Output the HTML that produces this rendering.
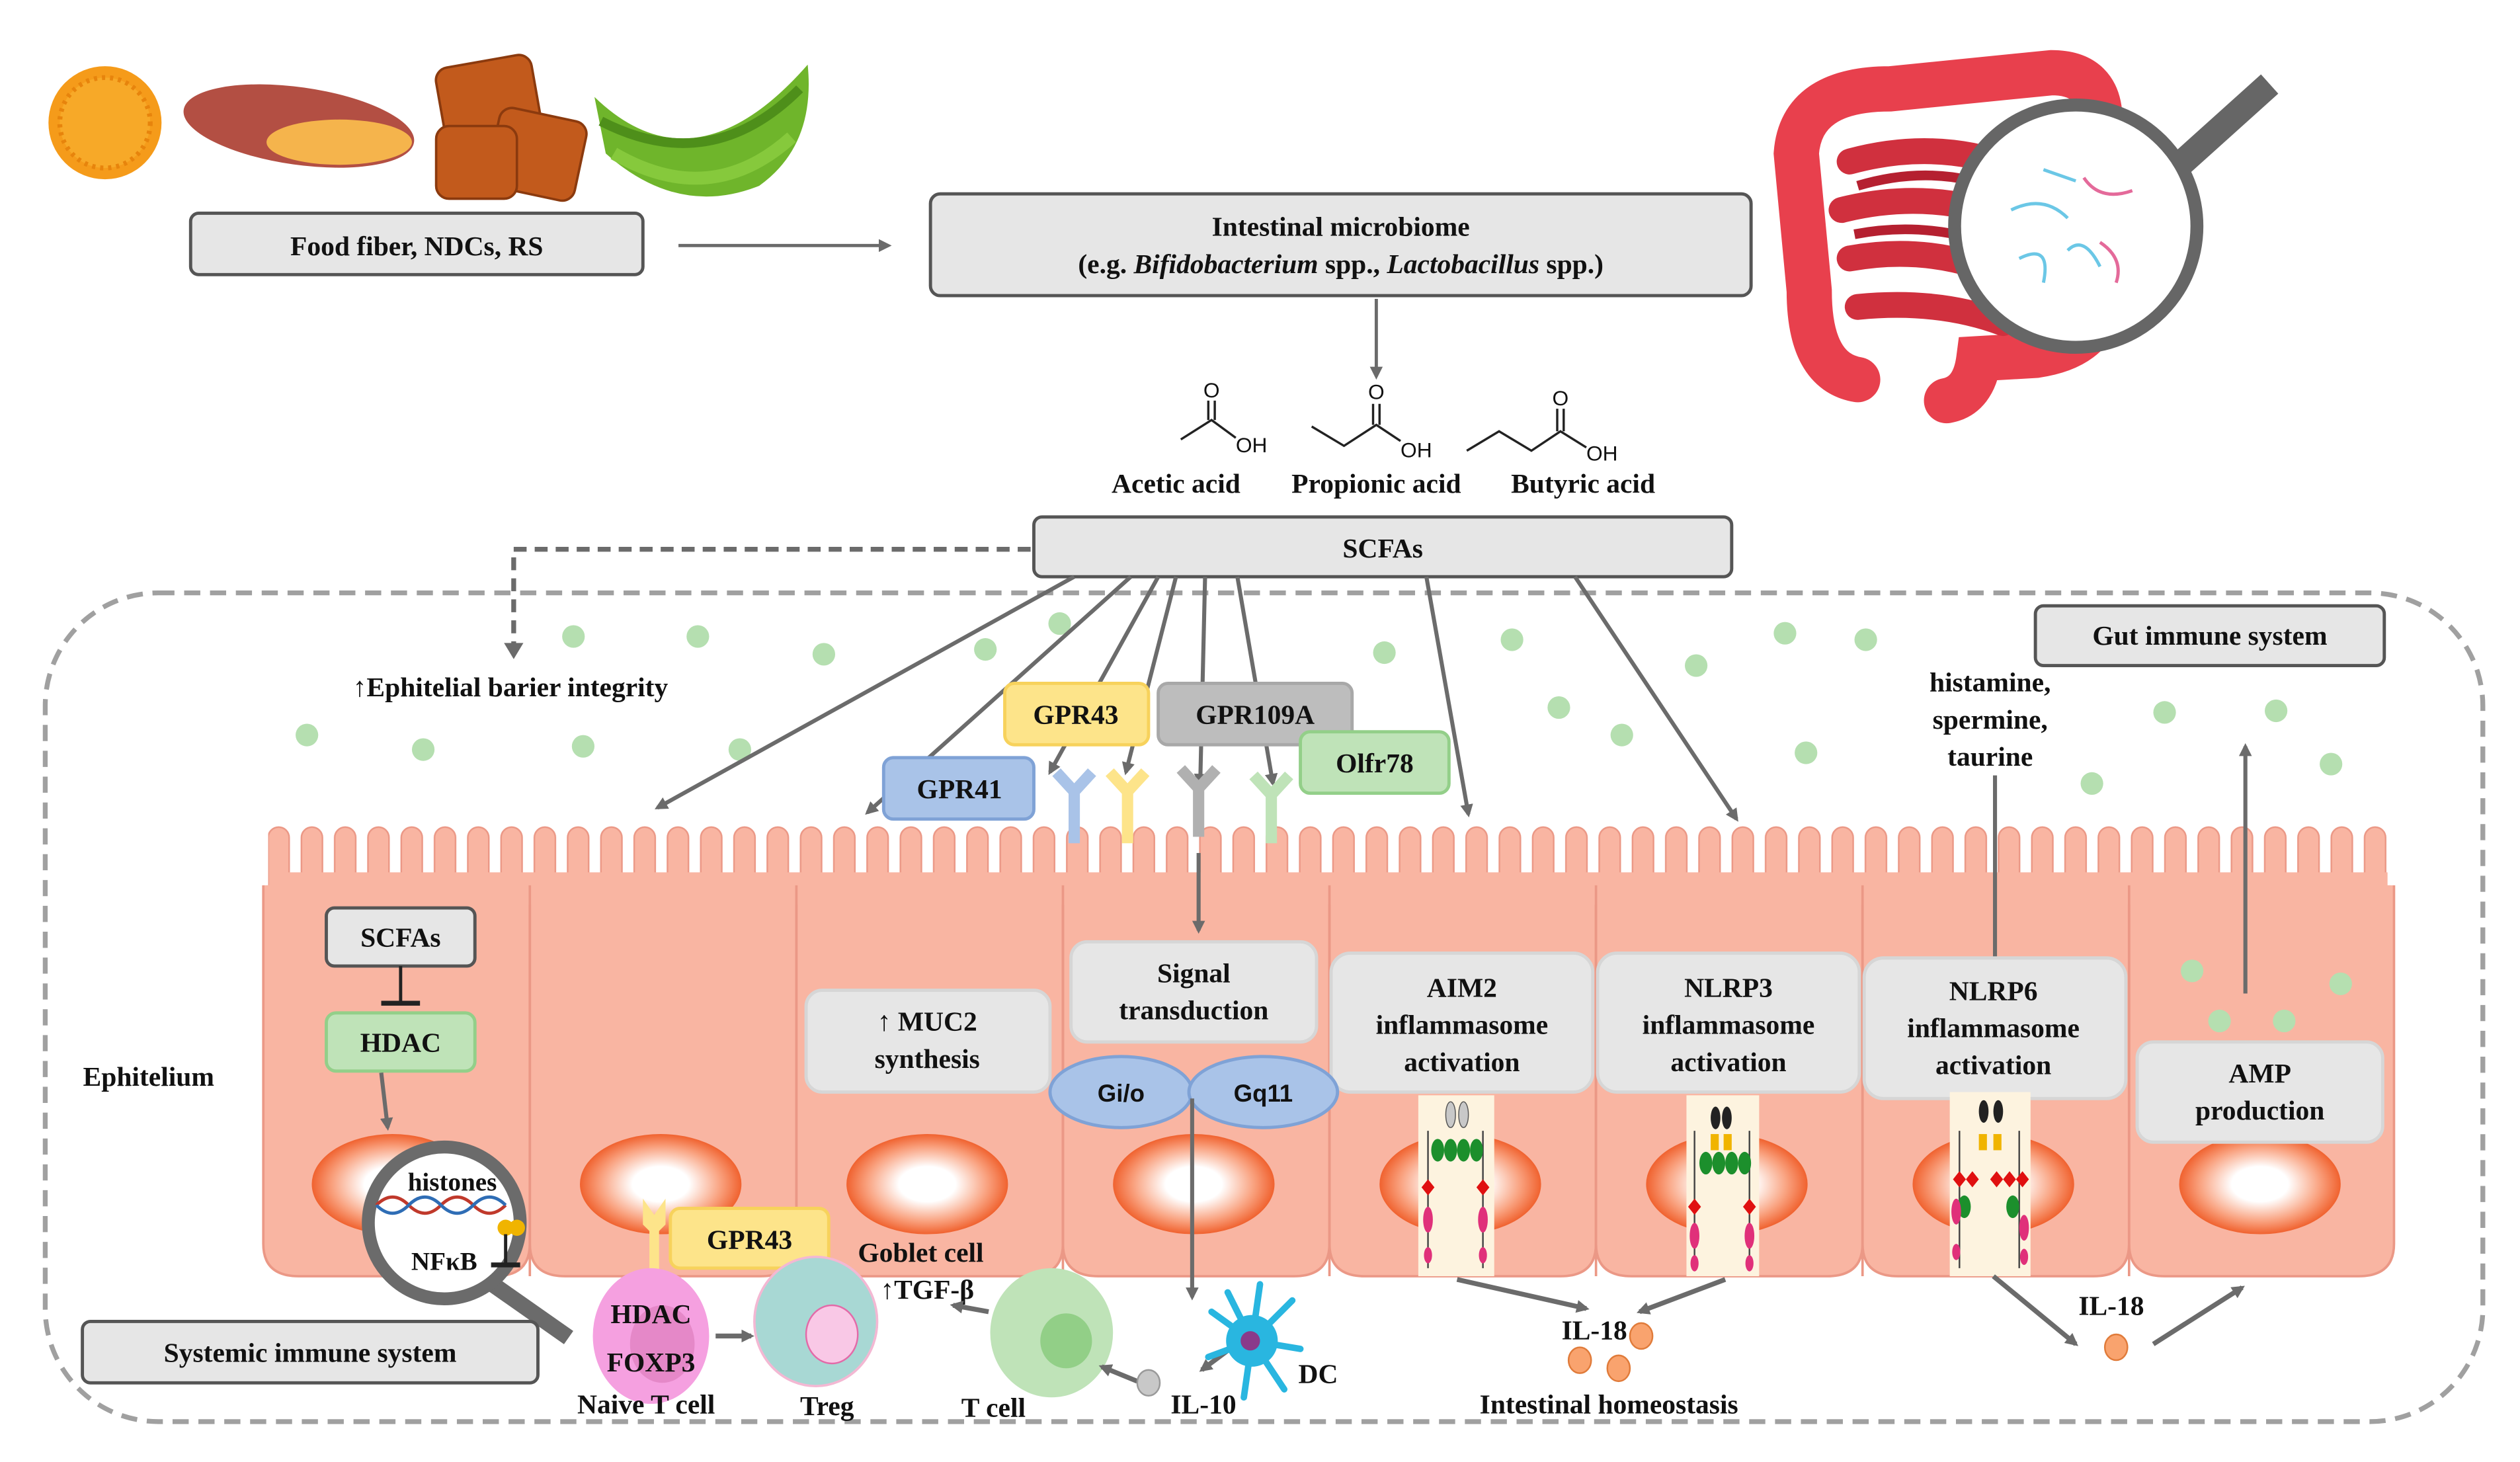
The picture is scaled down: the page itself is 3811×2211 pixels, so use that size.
<!DOCTYPE html>
<html><head><meta charset="utf-8"><style>
html,body{margin:0;padding:0;background:#fff}
svg{display:block}
text{font-family:"Liberation Serif",serif;font-weight:bold;fill:#111}
</style></head><body>
<svg width="3811" height="2211" viewBox="0 0 1560 905" preserveAspectRatio="none" xmlns="http://www.w3.org/2000/svg">
<defs>
<marker id="ah" markerWidth="8" markerHeight="8" refX="6" refY="4" orient="auto" markerUnits="userSpaceOnUse"><path d="M0,0 L8,4 L0,8 z" fill="#6b6b6b"/></marker>
<radialGradient id="nuc" cx="50%" cy="50%" r="50%"><stop offset="0" stop-color="#fff"/><stop offset="0.35" stop-color="#fff"/><stop offset="0.75" stop-color="#f9a07d"/><stop offset="1" stop-color="#f0622f"/></radialGradient>
<pattern id="vil" patternUnits="userSpaceOnUse" x="163" y="0" width="20.6" height="905">
<rect x="3" y="512" width="13" height="48" rx="6.5" fill="#f9b5a2" stroke="#eb9886" stroke-width="1"/>
</pattern>
</defs>

<!-- foods -->
<circle cx="65" cy="76" r="35" fill="#f59b1a"/>
<circle cx="65" cy="76" r="28" fill="#f7a928" stroke="#e7840c" stroke-width="3" stroke-dasharray="2 3"/>
<ellipse cx="185" cy="78" rx="72" ry="24" fill="#b34f43" transform="rotate(8 185 78)"/>
<ellipse cx="210" cy="88" rx="45" ry="14" fill="#f5b44c"/>
<g fill="#c25a1c" stroke="#8b3a0e" stroke-width="1.5">
<rect x="272" y="38" width="60" height="50" rx="8" transform="rotate(-10 300 60)"/>
<rect x="305" y="70" width="55" height="50" rx="8" transform="rotate(12 330 95)"/>
<rect x="270" y="78" width="50" height="45" rx="8"/>
</g>
<path d="M368,60 Q430,120 500,40 Q505,90 470,115 Q420,135 375,95 Z" fill="#6fb52b"/>
<path d="M372,75 Q440,110 495,55" stroke="#4e8f1a" stroke-width="6" fill="none"/>
<path d="M380,95 Q440,130 490,85" stroke="#86c93c" stroke-width="8" fill="none"/>

<!-- intestine -->
<path d="M1150,235 Q1120,230 1120,180 L1112,95 Q1115,55 1170,55 L1270,45 Q1300,45 1300,75 L1300,190 Q1295,215 1260,220 L1225,222 Q1222,245 1205,248" stroke="#e8404d" stroke-width="28" fill="none" stroke-linecap="round"/>
<path d="M1145,100 Q1200,85 1250,105 M1140,130 Q1200,115 1255,140 M1145,160 Q1200,150 1250,175 M1150,190 Q1200,185 1240,200" stroke="#d0303e" stroke-width="16" fill="none" stroke-linecap="round"/>
<path d="M1150,115 Q1200,100 1245,120 M1148,145 Q1200,135 1250,158" stroke="#b52030" stroke-width="6" fill="none"/>
<line x1="1335" y1="115" x2="1405" y2="52" stroke="#666" stroke-width="16"/>
<circle cx="1285" cy="140" r="75" fill="#fff" stroke="#666" stroke-width="8"/>
<g stroke-width="2" fill="none"><path d="M1245,130 Q1265,120 1280,135" stroke="#6bc7e6"/><path d="M1290,110 Q1300,125 1320,118" stroke="#e46a9a"/><path d="M1250,160 Q1270,150 1265,175" stroke="#6bc7e6"/><path d="M1300,150 Q1315,160 1310,175" stroke="#e46a9a"/><path d="M1265,105 L1285,112" stroke="#6bc7e6"/><path d="M1280,155 Q1290,145 1300,165" stroke="#6bc7e6"/></g>

<!-- top boxes -->
<rect x="118" y="132" width="280" height="38" rx="5" fill="#e6e6e6" stroke="#555" stroke-width="2"/>
<text x="258" y="158" font-size="17" text-anchor="middle">Food fiber, NDCs, RS</text>
<line x1="420" y1="152" x2="550" y2="152" stroke="#6b6b6b" stroke-width="2" marker-end="url(#ah)"/>
<rect x="576" y="120" width="508" height="63" rx="6" fill="#e6e6e6" stroke="#555" stroke-width="2"/>
<text x="830" y="146" font-size="17" text-anchor="middle">Intestinal microbiome</text>
<text x="830" y="169" font-size="17" text-anchor="middle">(e.g. <tspan font-style="italic">Bifidobacterium</tspan> spp., <tspan font-style="italic">Lactobacillus</tspan> spp.)</text>
<line x1="852" y1="185" x2="852" y2="233" stroke="#6b6b6b" stroke-width="2" marker-end="url(#ah)"/>

<!-- chemistry -->
<g stroke="#222" stroke-width="1.4" fill="none">
<path d="M731,272 L750,260 L765,271"/><path d="M748,260 V248 M752,260 V248"/>
<path d="M812,264 L832,276 L852,263 L867,273"/><path d="M850,263 V250 M854,263 V250"/>
<path d="M908,279 L928,267 L948,279 L966,267 L982,277"/><path d="M964,267 V253 M968,267 V253"/>
</g>
<g font-size="13" fill="#111">
<text x="750" y="246" text-anchor="middle" style="font-family:'Liberation Sans',sans-serif;font-weight:normal">O</text>
<text x="765" y="280" style="font-family:'Liberation Sans',sans-serif;font-weight:normal">OH</text>
<text x="852" y="247" text-anchor="middle" style="font-family:'Liberation Sans',sans-serif;font-weight:normal">O</text>
<text x="867" y="283" style="font-family:'Liberation Sans',sans-serif;font-weight:normal">OH</text>
<text x="966" y="251" text-anchor="middle" style="font-family:'Liberation Sans',sans-serif;font-weight:normal">O</text>
<text x="982" y="285" style="font-family:'Liberation Sans',sans-serif;font-weight:normal">OH</text>
</g>
<text x="728" y="305" font-size="17" text-anchor="middle">Acetic acid</text>
<text x="852" y="305" font-size="17" text-anchor="middle">Propionic acid</text>
<text x="980" y="305" font-size="17" text-anchor="middle">Butyric acid</text>

<!-- big dashed boundary -->
<rect x="28" y="367" width="1509" height="513" rx="70" fill="none" stroke="#a0a0a0" stroke-width="3" stroke-dasharray="10 6"/>

<!-- SCFAs box -->
<rect x="640" y="320" width="432" height="37" rx="5" fill="#e6e6e6" stroke="#555" stroke-width="2"/>
<text x="856" y="345" font-size="17" text-anchor="middle">SCFAs</text>
<path d="M638,340 H318 V402" stroke="#6b6b6b" stroke-width="3" fill="none" stroke-dasharray="8 5"/>
<path d="M312,398 L318,408 L324,398 z" fill="#6b6b6b"/>
<text x="316" y="431" font-size="17" text-anchor="middle">↑Ephitelial barier integrity</text>

<!-- green dots -->
<g fill="#b5dfb0">
<circle cx="355" cy="394" r="7"/><circle cx="432" cy="394" r="7"/><circle cx="510" cy="405" r="7"/><circle cx="610" cy="402" r="7"/><circle cx="656" cy="386" r="7"/>
<circle cx="190" cy="455" r="7"/><circle cx="262" cy="464" r="7"/><circle cx="361" cy="462" r="7"/><circle cx="458" cy="464" r="7"/>
<circle cx="857" cy="404" r="7"/><circle cx="936" cy="396" r="7"/><circle cx="965" cy="438" r="7"/><circle cx="1004" cy="455" r="7"/><circle cx="1050" cy="412" r="7"/><circle cx="1105" cy="392" r="7"/><circle cx="1118" cy="466" r="7"/><circle cx="1155" cy="396" r="7"/>
<circle cx="1295" cy="485" r="7"/><circle cx="1340" cy="441" r="7"/><circle cx="1409" cy="440" r="7"/><circle cx="1443" cy="473" r="7"/>
</g>

<!-- cells -->
<rect x="166" y="500" width="1314" height="70" fill="url(#vil)"/>
<g fill="#f9b5a2" stroke="#eb9886" stroke-width="1.5">
<path d="M163,548 V770 Q163,790 185,790 H306 Q328,790 328,770 V548"/>
<path d="M328,548 V770 Q328,790 350,790 H471 Q493,790 493,770 V548"/>
<path d="M493,548 V770 Q493,790 515,790 H636 Q658,790 658,770 V548"/>
<path d="M658,548 V770 Q658,790 680,790 H801 Q823,790 823,770 V548"/>
<path d="M823,548 V770 Q823,790 845,790 H966 Q988,790 988,770 V548"/>
<path d="M988,548 V770 Q988,790 1010,790 H1131 Q1153,790 1153,770 V548"/>
<path d="M1153,548 V770 Q1153,790 1175,790 H1296 Q1318,790 1318,770 V548"/>
<path d="M1318,548 V770 Q1318,790 1340,790 H1460 Q1482,790 1482,770 V548"/>
</g>
<rect x="165" y="548" width="1315" height="12" fill="#f9b5a2"/>
<rect x="166" y="500" width="1314" height="60" fill="url(#vil)" opacity="1" style="mix-blend-mode:normal" clip-path="none" mask="none" visibility="hidden"/>
<g fill="#f9b5a2"><rect x="168" y="540" width="1310" height="14"/></g>
<g stroke="#eb9886" stroke-width="1.5"><line x1="328" y1="548" x2="328" y2="790"/><line x1="493" y1="548" x2="493" y2="790"/><line x1="658" y1="548" x2="658" y2="790"/><line x1="823" y1="548" x2="823" y2="790"/><line x1="988" y1="548" x2="988" y2="790"/><line x1="1153" y1="548" x2="1153" y2="790"/><line x1="1318" y1="548" x2="1318" y2="790"/></g>

<!-- nuclei -->
<g fill="url(#nuc)">
<ellipse cx="243" cy="733" rx="50" ry="31"/><ellipse cx="409" cy="733" rx="50" ry="31"/><ellipse cx="574" cy="733" rx="50" ry="31"/><ellipse cx="739" cy="733" rx="50" ry="31"/><ellipse cx="904" cy="733" rx="50" ry="31"/><ellipse cx="1069" cy="733" rx="50" ry="31"/><ellipse cx="1234" cy="733" rx="50" ry="31"/><ellipse cx="1399" cy="733" rx="50" ry="31"/>
</g>

<!-- arrows from SCFAs -->
<g stroke="#6b6b6b" stroke-width="2.5" fill="none" marker-end="url(#ah)">
<line x1="665" y1="357" x2="407" y2="500"/>
<line x1="700" y1="357" x2="537" y2="503"/>
<line x1="717" y1="357" x2="650" y2="478"/>
<line x1="728" y1="357" x2="697" y2="478"/>
<line x1="746" y1="357" x2="743" y2="485"/>
<line x1="766" y1="357" x2="788" y2="485"/>
<line x1="883" y1="357" x2="909" y2="504"/>
<line x1="975" y1="357" x2="1075" y2="507"/>
<line x1="742" y1="528" x2="742" y2="576"/>
<line x1="1390" y1="615" x2="1390" y2="462"/>
</g>
<line x1="1235" y1="480" x2="1235" y2="595" stroke="#6b6b6b" stroke-width="2.5"/>

<!-- receptor boxes -->
<rect x="622" y="423" width="89" height="38" rx="6" fill="#fde48a" stroke="#f7d25c" stroke-width="2"/>
<text x="666" y="448" font-size="17" text-anchor="middle">GPR43</text>
<rect x="717" y="423" width="120" height="38" rx="6" fill="#bdbdbd" stroke="#a8a8a8" stroke-width="2"/>
<text x="777" y="448" font-size="17" text-anchor="middle">GPR109A</text>
<rect x="547" y="469" width="93" height="38" rx="6" fill="#a9c3e8" stroke="#7fa2d6" stroke-width="2"/>
<text x="594" y="494" font-size="17" text-anchor="middle">GPR41</text>
<rect x="805" y="453" width="92" height="38" rx="6" fill="#bfe3b8" stroke="#93cf89" stroke-width="2"/>
<text x="851" y="478" font-size="17" text-anchor="middle">Olfr78</text>

<!-- receptors -->
<g stroke-width="7" fill="none" stroke-linejoin="miter">
<path d="M654,478 L665,490 L676,478 M665,490 V522" stroke="#a9c3e8"/>
<path d="M687,478 L698,490 L709,478 M698,490 V522" stroke="#fde48a"/>
<path d="M731,476 L742,488 L753,476 M742,488 V518" stroke="#b0b0b0"/>
<path d="M776,480 L787,492 L798,480 M787,492 V522" stroke="#bfe3b8"/>
</g>

<!-- gut immune -->
<rect x="1260" y="375" width="216" height="37" rx="5" fill="#e6e6e6" stroke="#555" stroke-width="2"/>
<text x="1368" y="399" font-size="17" text-anchor="middle">Gut immune system</text>
<text x="1232" y="428" font-size="17" text-anchor="middle">histamine,</text>
<text x="1232" y="451" font-size="17" text-anchor="middle">spermine,</text>
<text x="1232" y="474" font-size="17" text-anchor="middle">taurine</text>

<!-- inner cell boxes -->
<rect x="202" y="562" width="92" height="36" rx="5" fill="#e6e6e6" stroke="#555" stroke-width="2"/>
<text x="248" y="586" font-size="17" text-anchor="middle">SCFAs</text>
<line x1="248" y1="598" x2="248" y2="620" stroke="#222" stroke-width="2"/>
<line x1="236" y1="621" x2="260" y2="621" stroke="#222" stroke-width="3"/>
<rect x="202" y="627" width="92" height="36" rx="6" fill="#bfe3b8" stroke="#93cf89" stroke-width="2"/>
<text x="248" y="651" font-size="17" text-anchor="middle">HDAC</text>
<line x1="236" y1="664" x2="240" y2="698" stroke="#6b6b6b" stroke-width="2.5" marker-end="url(#ah)"/>
<text x="92" y="672" font-size="17" text-anchor="middle">Ephitelium</text>

<g fill="#e6e6e6" stroke="#d6d6d6" stroke-width="2">
<rect x="499" y="613" width="151" height="63" rx="10"/>
<rect x="663" y="583" width="152" height="62" rx="10"/>
<rect x="824" y="590" width="162" height="86" rx="12"/>
<rect x="989" y="590" width="162" height="86" rx="12"/>
<rect x="1154" y="593" width="162" height="87" rx="12"/>
<rect x="1323" y="645" width="152" height="62" rx="10"/>
</g>
<g font-size="17" text-anchor="middle">
<text x="574" y="638">↑ MUC2</text><text x="574" y="661">synthesis</text>
<text x="739" y="608">Signal</text><text x="739" y="631">transduction</text>
<text x="905" y="617">AIM2</text><text x="905" y="640">inflammasome</text><text x="905" y="663">activation</text>
<text x="1070" y="617">NLRP3</text><text x="1070" y="640">inflammasome</text><text x="1070" y="663">activation</text>
<text x="1234" y="619">NLRP6</text><text x="1234" y="642">inflammasome</text><text x="1234" y="665">activation</text>
<text x="1399" y="670">AMP</text><text x="1399" y="693">production</text>
</g>
<g fill="#b5dfb0"><circle cx="1357" cy="601" r="7"/><circle cx="1374" cy="632" r="7"/><circle cx="1414" cy="632" r="7"/><circle cx="1449" cy="609" r="7"/></g>

<!-- G proteins -->
<ellipse cx="694" cy="676" rx="44" ry="22" fill="#a9c3e8" stroke="#7fa2d6" stroke-width="2"/>
<ellipse cx="782" cy="676" rx="46" ry="22" fill="#a9c3e8" stroke="#7fa2d6" stroke-width="2"/>
<text x="694" y="682" font-size="15" text-anchor="middle" style="font-family:'Liberation Sans',sans-serif">Gi/o</text>
<text x="782" y="682" font-size="15" text-anchor="middle" style="font-family:'Liberation Sans',sans-serif">Gq11</text>
<line x1="738" y1="680" x2="738" y2="803" stroke="#6b6b6b" stroke-width="2.5" marker-end="url(#ah)"/>

<!-- inflammasome strips -->
<g fill="#fdf3df"><rect x="878" y="678" width="47" height="112"/><rect x="1044" y="678" width="45" height="112"/><rect x="1207" y="676" width="50" height="114"/></g>
<g stroke="#444" stroke-width="1">
<line x1="884" y1="700" x2="884" y2="785"/><line x1="918" y1="700" x2="918" y2="785"/>
<line x1="1049" y1="700" x2="1049" y2="785"/><line x1="1083" y1="700" x2="1083" y2="785"/>
<line x1="1213" y1="700" x2="1213" y2="785"/><line x1="1250" y1="700" x2="1250" y2="785"/>
</g>
<g fill="#1c8f2c"><ellipse cx="890" cy="712" rx="4" ry="7"/><ellipse cx="898" cy="712" rx="4" ry="7"/><ellipse cx="906" cy="712" rx="4" ry="7"/><ellipse cx="914" cy="712" rx="4" ry="7"/>
<ellipse cx="1056" cy="720" rx="4" ry="7"/><ellipse cx="1064" cy="720" rx="4" ry="7"/><ellipse cx="1072" cy="720" rx="4" ry="7"/><ellipse cx="1080" cy="720" rx="4" ry="7"/>
<ellipse cx="1216" cy="747" rx="4" ry="7"/><ellipse cx="1246" cy="747" rx="4" ry="7"/></g>
<g fill="#c8c8c8" stroke="#555" stroke-width="0.6"><ellipse cx="898" cy="690" rx="3" ry="8"/><ellipse cx="906" cy="690" rx="3" ry="8"/></g>
<g fill="#222"><ellipse cx="1062" cy="692" rx="3" ry="7"/><ellipse cx="1069" cy="692" rx="3" ry="7"/><ellipse cx="1228" cy="688" rx="3" ry="7"/><ellipse cx="1237" cy="688" rx="3" ry="7"/></g>
<g fill="#f0b400"><rect x="1059" y="702" width="5" height="10"/><rect x="1067" y="702" width="5" height="10"/><rect x="1225" y="702" width="5" height="10"/><rect x="1234" y="702" width="5" height="10"/></g>
<g fill="#e01010"><path d="M884,730 l-4,5 4,5 4,-5z"/><path d="M918,730 l-4,5 4,5 4,-5z"/><path d="M1049,742 l-4,5 4,5 4,-5z"/><path d="M1083,742 l-4,5 4,5 4,-5z"/>
<path d="M1213,725 l-4,5 4,5 4,-5z"/><path d="M1221,725 l-4,5 4,5 4,-5z"/><path d="M1236,725 l-4,5 4,5 4,-5z"/><path d="M1244,725 l-4,5 4,5 4,-5z"/><path d="M1252,725 l-4,5 4,5 4,-5z"/></g>
<g fill="#e0307a"><ellipse cx="884" cy="755" rx="3" ry="8"/><ellipse cx="918" cy="755" rx="3" ry="8"/><ellipse cx="884" cy="777" rx="2.5" ry="5"/><ellipse cx="918" cy="777" rx="2.5" ry="5"/>
<ellipse cx="1049" cy="765" rx="3" ry="8"/><ellipse cx="1083" cy="765" rx="3" ry="8"/><ellipse cx="1049" cy="782" rx="2.5" ry="5"/><ellipse cx="1083" cy="782" rx="2.5" ry="5"/>
<ellipse cx="1211" cy="750" rx="3" ry="8"/><ellipse cx="1253" cy="760" rx="3" ry="8"/><ellipse cx="1211" cy="775" rx="2.5" ry="5"/><ellipse cx="1253" cy="778" rx="2.5" ry="5"/></g>

<!-- magnifier -->
<line x1="305" y1="795" x2="352" y2="828" stroke="#6b6b6b" stroke-width="10"/>
<circle cx="275" cy="757" r="47" fill="#fff" stroke="#6b6b6b" stroke-width="8"/>
<text x="280" y="737" font-size="16" text-anchor="middle">histones</text>
<path d="M233,746 Q243,736 253,746 T273,746 T293,746 T313,746" stroke="#c0392b" stroke-width="2" fill="none"/>
<path d="M233,746 Q243,756 253,746 T273,746 T293,746 T313,746" stroke="#2e6db5" stroke-width="2" fill="none"/>
<circle cx="313" cy="760" r="5" fill="#f0b400"/><circle cx="320" cy="760" r="5" fill="#f0b400"/>
<text x="275" y="786" font-size="16" text-anchor="middle">NFκB</text>
<line x1="313" y1="764" x2="313" y2="782" stroke="#222" stroke-width="2"/><line x1="304" y1="783" x2="322" y2="783" stroke="#222" stroke-width="3"/>

<!-- systemic -->
<rect x="51" y="818" width="282" height="38" rx="5" fill="#e6e6e6" stroke="#555" stroke-width="2"/>
<text x="192" y="843" font-size="17" text-anchor="middle">Systemic immune system</text>

<!-- T cells -->
<path d="M398,742 L405,752 L412,742 L412,758 L408,762 V790 H402 V762 L398,758 z" fill="#fde48a"/>
<rect x="415" y="748" width="98" height="37" rx="6" fill="#fde48a" stroke="#f7d25c" stroke-width="2"/>
<text x="464" y="773" font-size="17" text-anchor="middle">GPR43</text>
<ellipse cx="403" cy="827" rx="36" ry="42" fill="#f5a0e0"/>
<ellipse cx="410" cy="832" rx="20" ry="24" fill="#e588c8"/>
<text x="403" y="819" font-size="17" text-anchor="middle">HDAC</text>
<text x="403" y="849" font-size="17" text-anchor="middle">FOXP3</text>
<text x="400" y="875" font-size="17" text-anchor="middle">Naive T cell</text>
<line x1="443" y1="827" x2="465" y2="827" stroke="#6b6b6b" stroke-width="3" marker-end="url(#ah)"/>
<ellipse cx="505" cy="818" rx="38" ry="40" fill="#a8d8d4" stroke="#f3b8d3" stroke-width="1.5"/>
<ellipse cx="515" cy="826" rx="16" ry="18" fill="#f9c8e6" stroke="#e36aa8" stroke-width="1"/>
<text x="512" y="876" font-size="17" text-anchor="middle">Treg</text>
<text x="570" y="781" font-size="17" text-anchor="middle">Goblet cell</text>
<text x="574" y="804" font-size="17" text-anchor="middle">↑TGF-β</text>
<line x1="612" y1="812" x2="590" y2="808" stroke="#6b6b6b" stroke-width="3" marker-end="url(#ah)"/>
<ellipse cx="651" cy="825" rx="38" ry="40" fill="#bfe3b8"/>
<ellipse cx="660" cy="830" rx="16" ry="17" fill="#92cf87"/>
<text x="615" y="877" font-size="17" text-anchor="middle">T cell</text>
<line x1="704" y1="855" x2="682" y2="846" stroke="#6b6b6b" stroke-width="3" marker-end="url(#ah)"/>
<ellipse cx="711" cy="856" rx="7" ry="8" fill="#c8c8c8" stroke="#999"/>
<text x="745" y="875" font-size="17" text-anchor="middle">IL-10</text>
<line x1="760" y1="836" x2="744" y2="848" stroke="#6b6b6b" stroke-width="3" marker-end="url(#ah)"/>
<!-- DC -->
<g stroke="#29b6e0" stroke-width="4" stroke-linecap="round" fill="none">
<path d="M775,830 L750,812 M775,830 L760,800 M775,830 L780,795 M775,830 L800,805 M775,830 L805,835 M775,830 L795,860 M775,830 L770,865 M775,830 L748,840"/>
</g>
<circle cx="775" cy="830" r="16" fill="#29b6e0"/>
<circle cx="774" cy="830" r="6" fill="#8a3a8a"/>
<text x="816" y="856" font-size="17" text-anchor="middle">DC</text>

<!-- IL-18 -->
<g stroke="#6b6b6b" stroke-width="3" fill="none" marker-end="url(#ah)">
<line x1="902" y1="792" x2="982" y2="810"/>
<line x1="1068" y1="792" x2="1015" y2="812"/>
<line x1="1234" y1="790" x2="1285" y2="832"/>
<line x1="1333" y1="832" x2="1388" y2="797"/>
</g>
<text x="987" y="829" font-size="17" text-anchor="middle">IL-18</text>
<g fill="#f9a36e" stroke="#e07b3a" stroke-width="1"><ellipse cx="1016" cy="827" rx="7" ry="8"/><ellipse cx="978" cy="842" rx="7" ry="8"/><ellipse cx="1002" cy="847" rx="7" ry="8"/><ellipse cx="1310" cy="834" rx="7" ry="8"/></g>
<text x="996" y="875" font-size="17" text-anchor="middle">Intestinal homeostasis</text>
<text x="1307" y="814" font-size="17" text-anchor="middle">IL-18</text>
</svg>
</body></html>
